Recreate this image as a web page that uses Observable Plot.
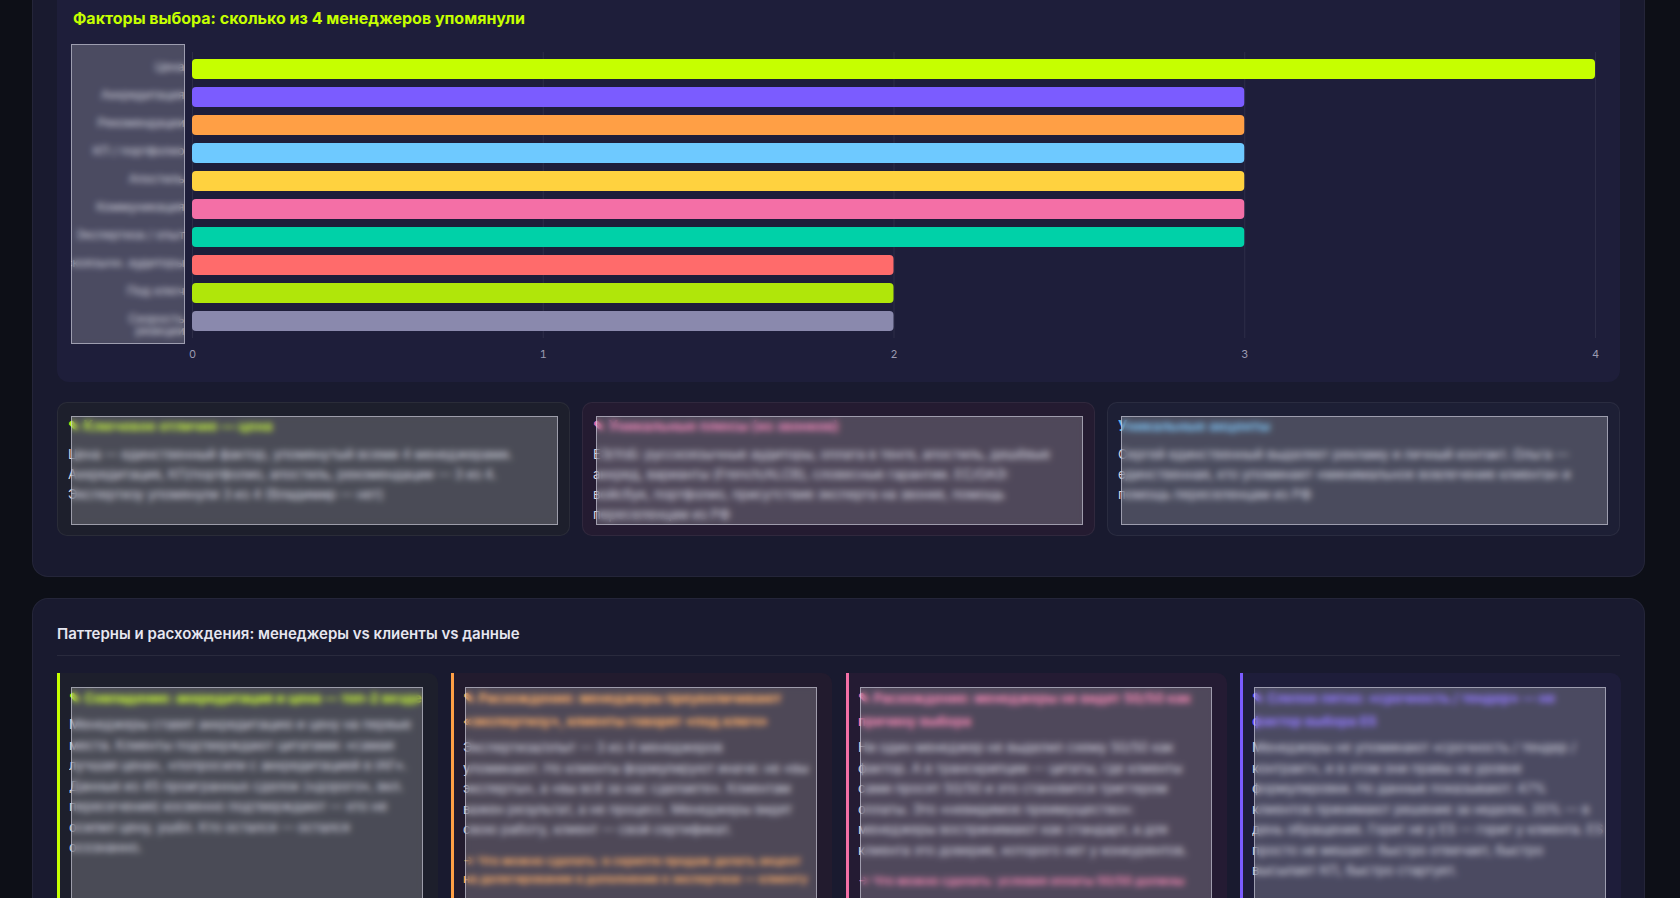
<!DOCTYPE html>
<html lang="ru">
<head>
<meta charset="utf-8">
<script src="https://cdn.jsdelivr.net/npm/d3@7"></script>
<script src="https://cdn.jsdelivr.net/npm/@observablehq/plot@0.6"></script>
<style>
  html, body { margin: 0; padding: 0; }
  body { width: 1680px; height: 898px; overflow: hidden; background: #0d0f17; font-family: Inter, "Noto Sans", sans-serif; position: relative; }
  .abs { position: absolute; }
  .panel { background: #191a2f; border: 1px solid rgba(255,255,255,0.05); border-radius: 16px; box-sizing: border-box; }
  .chartcard { background: #1e1e3a; border-radius: 12px; }
  .title1 { color: #c6ff00; font-weight: 700; font-size: 16px; white-space: nowrap; }
  .title2 { color: #e6e6f0; font-weight: 600; font-size: 15px; white-space: nowrap; }
  .blur { background: rgba(255,255,255,0.20); border: 1px solid rgba(225,225,240,0.55); box-sizing: border-box; backdrop-filter: blur(3px); -webkit-backdrop-filter: blur(3px); }
  .card { border: 1px solid rgba(255,255,255,0.06); border-radius: 10px; box-sizing: border-box; overflow: hidden; }
  .txt { position: absolute; white-space: nowrap; overflow: hidden; font-size: 13.3px; line-height: 20px; color: #d4d4e0; }
  .hd { font-weight: 700; line-height: 20px; }
  .pcard { border-radius: 0 10px 10px 0; box-sizing: border-box; overflow: hidden; border-left: 3px solid; }
</style>
</head>
<body>
<script>
// ---------- data ----------
const factors = ["Цена", "Аккредитация", "Рекомендации", "КП / портфолио", "Апостиль", "Коммуникация", "Экспертиза / опыт", "Русскоязычн. аудиторы", "Под ключ", "Скорость\nреакции"];
const mentions = [4, 3, 3, 3, 3, 3, 3, 2, 2, 2];
const barColors = ["#c6ff00", "#7b5cff", "#ff9f45", "#6ec9ff", "#ffd23f", "#f46fa6", "#00d1a8", "#ff6b6b", "#b0e60a", "#8a89ad"];
const xTicks = [0, 1, 2, 3, 4];

const chartTitle = "Факторы выбора: сколько из 4 менеджеров упомянули";
const sectionTitle = "Паттерны и расхождения: менеджеры vs клиенты vs данные";

const summaryHeads = ["✎ Ключевое отличие — цена", "✎ Уникальные плюсы (из звонков)", "Уникальные акценты"];
const summaryColors = ["#b5ea10", "#e46aa8", "#5fb2ea"];
const summaryBg = ["#1d1f2c", "#241b31", "#1d1f35"];
const summaryBodies = [
  ["Цена — единственный фактор, упомянутый всеми 4 менеджерами.", "Аккредитация, КП/портфолио, апостиль, рекомендации — 3 из 4.", "Экспертизу упомянули 3 из 4 (Владимир — нет)"],
  ["ЕЭ/УзБ: русскоязычные аудиторы, оплата в тенге, апостиль, дешёвые", "аккред, варианты (French/ALCB), словесные гарантии. ЕС/ОАЭ:", "войсбук, портфолио, присутствие эксперта на звонке, помощь", "переселенцам из РФ"],
  ["Сергей единственный выделяет рекламу и личный контакт. Ольга —", "единственная, кто упоминает «минимальное вовлечение клиента» и", "помощь переселенцам из РФ"]
];

const patternColors = ["#c6ff00", "#ff9f45", "#f46fa6", "#7b5cff"];
const patternBg = ["#1d1f2c", "#221b2e", "#241b33", "#1e1d3a"];
const patternHeads = [
  ["✎ Совпадение: аккредитация и цена — топ-2 везде"],
  ["✎ Расхождение: менеджеры преувеличивают", "«экспертизу», клиенты говорят «под ключ»"],
  ["✎ Расхождение: менеджеры не видят 50/50 как", "причину выбора"],
  ["✎ Слепое пятно: «срочность / тендер» — не", "фактор выбора ES"]
];
const patternBodies = [
  ["Менеджеры ставят аккредитацию и цену на первые", "места. Клиенты подтверждают цитатами: «самая", "лучшая цена», «попросили с аккредитацией в IAF».", "Данные из 45 проигранных сделок («дорого», вкл.", "пересечения) косвенно подтверждают — кто не", "осилил цену, ушёл. Кто остался — остался", "осознанно."],
  ["Экспертиза/опыт — 3 из 4 менеджеров", "упоминают. Но клиенты формулируют иначе: не «вы", "эксперты», а «вы всё за нас сделаете». Клиентам", "важен результат, а не процесс. Менеджеры видят", "свою работу, клиент — свой сертификат."],
  ["Ни один менеджер не выделил схему 50/50 как", "фактор. А в транскрипции — цитаты, где клиенты", "сами просят 50/50 и это становится триггером", "оплаты. Это «невидимое преимущество»:", "менеджеры воспринимают как стандарт, а для", "клиента это доверие, которого нет у конкурентов."],
  ["Менеджеры не упоминают «срочность / тендер /", "контракт», и в этом они правы на уровне", "формулировки. Но данные показывают: 47%", "клиентов принимают решение за неделю, 20% — в", "день обращения. Горит не у ES — горит у клиента. ES", "просто не мешает: быстро отвечает, быстро", "высылает КП, быстро стартует."]
];
const patternActions = [
  [],
  ["→ Что можно сделать: в скрипте продаж делать акцент", "на делегировании в дополнение к экспертизе — клиенту"],
  ["→ Что можно сделать: условия оплаты 50/50 должны"],
  []
];

// ---------- layout helpers ----------
function el(tag, cls, css, parent) {
  const e = document.createElement(tag);
  if (cls) e.className = cls;
  Object.assign(e.style, css || {});
  (parent || document.body).appendChild(e);
  return e;
}

// panel 1
el("div", "abs panel", {left: "32px", top: "-60px", width: "1613px", height: "637px"});
el("div", "abs chartcard", {left: "57px", top: "-30px", width: "1563px", height: "412px"});
const t1 = el("div", "abs title1", {left: "73px", top: "8px"});
t1.textContent = chartTitle;

// chart
const data = factors.map((f, i) => ({factor: f, value: mentions[i]}));
const chart = Plot.plot({
  width: 1535,
  height: 324,
  marginLeft: 121,
  marginRight: 11,
  marginTop: 8,
  marginBottom: 30,
  style: {background: "transparent", color: "#9a9ab0", fontFamily: "Inter, sans-serif", fontSize: "11px", overflow: "hidden"},
  x: {domain: [0, 4], ticks: xTicks, tickFormat: d3.format("d")},
  y: {domain: factors, paddingInner: 0.28, paddingOuter: 0.14},
  color: {domain: factors, range: barColors},
  marks: [
    Plot.gridX(xTicks, {stroke: "#ffffff", strokeOpacity: 0.07}),
    Plot.barX(data, {x: "value", y: "factor", fill: "factor", rx: 4}),
    Plot.axisX({ticks: xTicks, tickFormat: d3.format("d"), tickSize: 0, tickPadding: 12, line: true, stroke: "#ffffff", strokeOpacity: 0.07, fill: "#9a9ab0", label: null}),
    Plot.axisY({tickSize: 0, tickPadding: 8, fill: "#d0d0de", fontSize: 12, label: null, lineAnchor: "top", dy: -7})
  ]
});
const holder = el("div", "abs", {left: "71px", top: "44px"});
holder.appendChild(chart);
el("div", "abs blur", {left: "71px", top: "44px", width: "114px", height: "300px"});

// summary cards
const sLeft = [57, 582, 1107];
summaryHeads.forEach((h, i) => {
  const c = el("div", "abs card", {left: sLeft[i] + "px", top: "402px", width: "513px", height: "134px", background: summaryBg[i]});
  const tx = el("div", "txt", {left: "10px", top: "13px", width: "490px", height: "108px"}, c);
  const hd = el("div", "hd", {color: summaryColors[i], marginBottom: "8px", fontSize: "14px"}, tx);
  hd.textContent = h;
  summaryBodies[i].forEach(line => { const d = el("div", "", {}, tx); d.textContent = line; });
  el("div", "abs blur", {left: "13px", top: "13px", width: "487px", height: "109px"}, c);
});

// panel 2
el("div", "abs panel", {left: "32px", top: "598px", width: "1613px", height: "400px"});
const t2 = el("div", "abs title2", {left: "57px", top: "624px"});
t2.textContent = sectionTitle;
el("div", "abs", {left: "57px", top: "655px", width: "1563px", height: "1px", background: "rgba(255,255,255,0.07)"});

const pLeft = [57, 451, 846, 1240];
patternHeads.forEach((h, i) => {
  const c = el("div", "abs pcard", {left: pLeft[i] + "px", top: "673px", width: "381px", height: "260px", background: patternBg[i], borderLeftColor: patternColors[i]});
  const tx = el("div", "txt", {left: "9px", top: "14px", width: "354px", height: "250px"}, c);
  h.forEach((line, k) => {
    const d = el("div", "hd", {color: patternColors[i], fontSize: "13.5px", lineHeight: "23px", marginBottom: k === h.length - 1 ? "4px" : "0"}, tx);
    d.textContent = line;
  });
  patternBodies[i].forEach(line => { const d = el("div", "", {lineHeight: "20.5px"}, tx); d.textContent = line; });
  patternActions[i].forEach((line, k) => {
    const d = el("div", "", {color: patternColors[i], fontWeight: 600, fontSize: "12px", lineHeight: "18px", marginTop: k === 0 ? "12px" : "0"}, tx);
    d.textContent = line;
  });
  el("div", "abs blur", {left: "11px", top: "14px", width: "352px", height: "260px"}, c);
});
</script>
</body>
</html>
